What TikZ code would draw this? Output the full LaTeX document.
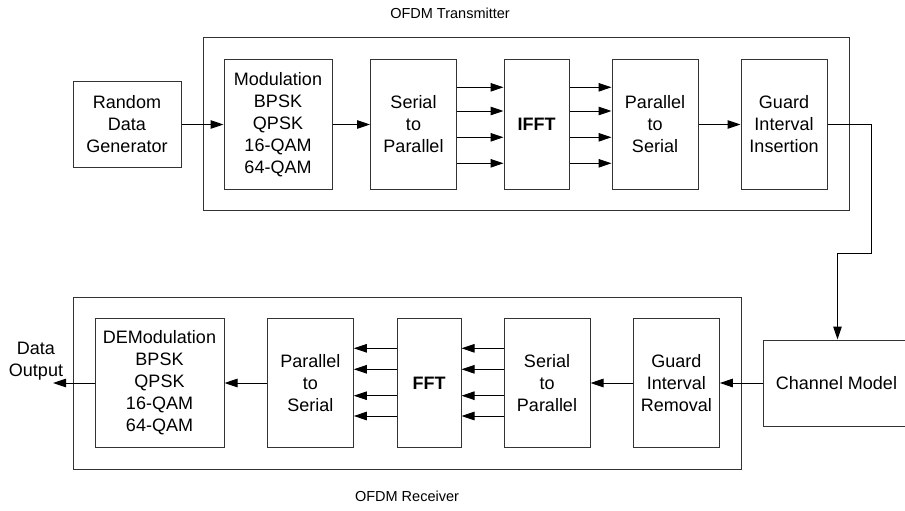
\documentclass[tikz,border=0pt]{standalone}
\usepackage{fontspec}
\setmainfont{Liberation Sans}
\usetikzlibrary{arrows.meta}
\begin{document}
\begin{tikzpicture}[x=1pt,y=-1pt,
  blk/.style={draw=black!80,line width=1pt,rectangle,align=center,inner sep=0pt,
     font=\fontsize{18}{22}\selectfont,minimum height=129pt},
  grp/.style={draw=black!80,line width=1pt},
  arr/.style={draw=black,line width=1pt,-{Triangle[length=13pt,width=8.5pt]}},
  ln/.style={draw=black,line width=1pt},
  ttl/.style={font=\fontsize{14.5}{17}\selectfont,inner sep=0pt},
  lbl/.style={font=\fontsize{18}{22}\selectfont,align=center,inner sep=0pt}]
\useasboundingbox (0,0) rectangle (905,511);
\fill[white] (0,0) rectangle (905,511);

% Transmitter
\node[ttl] (ttx) at (450,13) {OFDM Transmitter};
\draw[grp] (203,38) rectangle (849,210);
\node[blk,minimum width=108pt,minimum height=85pt] (rdg) at (127,124.5) {Random\\Data\\Generator};
\node[blk,minimum width=108pt] (mod) at (278,124.5) {Modulation\\BPSK\\QPSK\\16-QAM\\64-QAM};
\node[blk,minimum width=86pt] (s2p) at (413.5,124.5) {Serial\\to\\Parallel};
\node[blk,minimum width=65pt,font=\fontsize{18}{22}\selectfont\bfseries] (ifft) at (536.5,124.5) {IFFT};
\node[blk,minimum width=86pt] (p2s) at (655,124.5) {Parallel\\to\\Serial};
\node[blk,minimum width=86pt] (gii) at (784,124.5) {Guard\\Interval\\Insertion};

\draw[arr] (rdg.east) -- (mod.west);
\draw[arr] (mod.east) -- (s2p.west);
\foreach \y in {87.3,111,137.3,163.3}{
  \draw[arr] (s2p.east |- 0,\y) -- (ifft.west |- 0,\y);
  \draw[arr] (ifft.east |- 0,\y) -- (p2s.west |- 0,\y);
}
\draw[arr] (p2s.east) -- (gii.west);

% Channel
\node[blk,minimum width=149pt,minimum height=86pt,anchor=west] (chan) at (763,383) {\hspace*{-3pt}Channel Model\hspace*{0pt}};
\coordinate (c1) at (871,124.5);
\coordinate (c2) at (871,253);
\coordinate (c3) at (837.5,253);
\draw[arr] (gii.east) -- (c1) -- (c2) -- (c3) -- (c3 |- chan.north);

% Receiver
\node[ttl] (trx) at (407,496) {OFDM Receiver};
\draw[grp] (73,297) rectangle (741,469);
\node[blk,minimum width=129pt] (demod) at (159.5,383) {DEModulation\\BPSK\\QPSK\\16-QAM\\64-QAM};
\node[blk,minimum width=86pt] (rp2s) at (310.3,383) {Parallel\\to\\Serial};
\node[blk,minimum width=64pt,font=\fontsize{18}{22}\selectfont\bfseries] (fft) at (429,383) {FFT};
\node[blk,minimum width=86pt] (rs2p) at (547,383) {Serial\\to\\Parallel};
\node[blk,minimum width=86pt] (gir) at (676.3,383) {Guard\\Interval\\Removal};

\draw[arr] (chan.west) -- (gir.east);
\draw[arr] (gir.west) -- (rs2p.east);
\foreach \y in {348.3,369.3,395.7,416}{
  \draw[arr] (rs2p.west |- 0,\y) -- (fft.east |- 0,\y);
  \draw[arr] (fft.west |- 0,\y) -- (rp2s.east |- 0,\y);
}
\draw[arr] (rp2s.west) -- (demod.east);
\coordinate (dout) at (53,383);
\draw[arr] (demod.west) -- (dout);
\node[lbl] (dlab) at (36,361.5) {Data\\Output};
\end{tikzpicture}
\end{document}
